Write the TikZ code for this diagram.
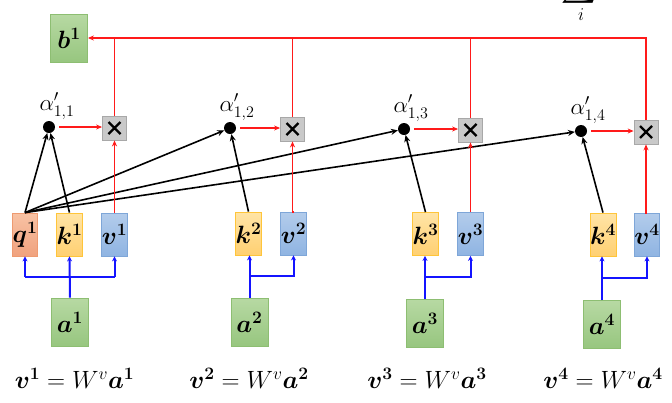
\documentclass[tikz,border=0pt]{standalone}
\usepackage{fix-cm}
\usepackage{amsmath}
\usepackage{bm}
\usetikzlibrary{arrows.meta}
\definecolor{gtop}{HTML}{B7D9A3}
\definecolor{gbot}{HTML}{97C67F}
\definecolor{gline}{HTML}{8DBE72}
\definecolor{otop}{HTML}{F8C2A4}
\definecolor{obot}{HTML}{F0A27E}
\definecolor{oline}{HTML}{EE9A70}
\definecolor{ytop}{HTML}{FFE4A6}
\definecolor{ybot}{HTML}{FFD072}
\definecolor{yline}{HTML}{FFC53A}
\definecolor{btop}{HTML}{B3CCEB}
\definecolor{bbot}{HTML}{8FB4E2}
\definecolor{bline}{HTML}{7EA6D8}
\definecolor{xfill}{HTML}{C9C9C9}
\definecolor{xline}{HTML}{A8A8A8}
\definecolor{redl}{HTML}{FF1A1A}
\definecolor{bluel}{HTML}{1414FF}
\tikzset{
  base/.style={draw, line width=0.8pt, inner sep=0pt, font=\fontsize{25}{25}\selectfont},
  gbox/.style={base, top color=gtop, bottom color=gbot, draw=gline, minimum width=37pt, minimum height=48pt},
  qbox/.style={base, top color=otop, bottom color=obot, draw=oline, minimum width=24pt, minimum height=43pt},
  kbox/.style={base, top color=ytop, bottom color=ybot, draw=yline, minimum width=23pt, minimum height=43pt},
  vbox/.style={base, top color=btop, bottom color=bbot, draw=bline, minimum width=23pt, minimum height=43pt},
  xbox/.style={draw=xline, fill=xfill, line width=0.8pt, minimum width=24pt, minimum height=24pt, inner sep=0pt},
  dotn/.style={circle, fill=black, inner sep=0pt, minimum size=12pt},
  alab/.style={font=\fontsize{23}{23}\selectfont, inner sep=0pt},
  eqn/.style={font=\fontsize{25}{25}\selectfont, inner sep=0pt},
  blk/.style={draw=black, line width=1.6pt, -{Stealth[length=7pt,width=6pt]}},
  red/.style={draw=redl, line width=1.8pt},
  reda/.style={red, -{Stealth[length=6pt,width=5pt]}},
  blu/.style={draw=bluel, line width=2pt},
  blua/.style={blu, -{Stealth[length=5pt,width=5pt]}},
}
\newcommand{\xmark}{\tikz[baseline=-3pt]{\draw[line width=2.4pt] (-6pt,-6pt)--(6pt,6pt) (-6pt,6pt)--(6pt,-6pt);}}
\begin{document}
\begin{tikzpicture}[x=1pt,y=-1pt]
\useasboundingbox (0,0) rectangle (672,402);
% sigma partial
\node[anchor=south, inner sep=0pt, font=\fontsize{24}{24}\selectfont] (sig) at (579,6) {$\displaystyle\sum$};
\node[inner sep=0pt, font=\fontsize{18}{18}\selectfont] (sigi) at (581,15) {$i$};
% b1
\node[gbox] (b) at (69,38) {$\bm{b}^{\bm 1}$};
% q k v
\node[qbox] (q1) at (25,234.5) {$\bm{q}^{\bm 1}$};
\node[kbox] (k1) at (69.5,234.5) {$\bm{k}^{\bm 1}$};
\node[vbox] (v1) at (114.5,234.5) {$\bm{v}^{\bm 1}$};
\node[kbox] (k2) at (248.5,233.5) {$\bm{k}^{\bm 2}$};
\node[vbox] (v2) at (293.5,233.5) {$\bm{v}^{\bm 2}$};
\node[kbox] (k3) at (425.5,234) {$\bm{k}^{\bm 3}$};
\node[vbox] (v3) at (470.5,234) {$\bm{v}^{\bm 3}$};
\node[kbox] (k4) at (603,234.5) {$\bm{k}^{\bm 4}$};
\node[vbox] (v4) at (647,234.5) {$\bm{v}^{\bm 4}$};
% a boxes
\node[gbox] (a1) at (70,322) {$\bm{a}^{\bm 1}$};
\node[gbox] (a2) at (249.5,322) {$\bm{a}^{\bm 2}$};
\node[gbox] (a3) at (425,323) {$\bm{a}^{\bm 3}$};
\node[gbox] (a4) at (602,324.5) {$\bm{a}^{\bm 4}$};
% X boxes
\node[xbox] (x1) at (114.5,128) {\xmark};
\node[xbox] (x2) at (292.5,129) {\xmark};
\node[xbox] (x3) at (470.5,130) {\xmark};
\node[xbox] (x4) at (646,132) {\xmark};
% dots
\node[dotn] (d1) at (49,127) {};
\node[dotn] (d2) at (230,128) {};
\node[dotn] (d3) at (404,129) {};
\node[dotn] (d4) at (581,131) {};
% alpha labels
\node[alab] (l1) at (57,106) {$\alpha'_{1,1}$};
\node[alab] (l2) at (237,107) {$\alpha'_{1,2}$};
\node[alab] (l3) at (411,108) {$\alpha'_{1,3}$};
\node[alab] (l4) at (588,110) {$\alpha'_{1,4}$};
% equations
\node[eqn] (e1) at (74.5,378) {$\bm{v}^{\bm 1} = W^{v}\bm{a}^{\bm 1}$};
\node[eqn] (e2) at (249,378) {$\bm{v}^{\bm 2} = W^{v}\bm{a}^{\bm 2}$};
\node[eqn] (e3) at (427,378) {$\bm{v}^{\bm 3} = W^{v}\bm{a}^{\bm 3}$};
\node[eqn] (e4) at (603,378) {$\bm{v}^{\bm 4} = W^{v}\bm{a}^{\bm 4}$};
% black arrows
\foreach \d in {d1,d2,d3,d4}{
  \draw[blk] (q1.north) -- (\d);
}
\draw[blk] (k1.north) -- (d1);
\draw[blk] (k2.north) -- (d2);
\draw[blk] (k3.north) -- (d3);
\draw[blk] (k4.north) -- (d4);
% red arrows
\foreach \i in {1,2,3,4}{
  \draw[reda] ([xshift=4pt]d\i.east) -- (x\i.west |- d\i.east);
  \draw[reda] (v\i.north) -- (v\i.north -| x\i.south) -- (x\i.south);
}
\coordinate (tr) at (646,38);
\draw[red] (x1.north) -- (x1.north |- tr);
\draw[red] (x2.north) -- (x2.north |- tr);
\draw[red] (x3.north) -- (x3.north |- tr);
\draw[reda] (x4.north) -- (tr) -- (b.east);
% blue arrows
\coordinate (h1) at (70,277);
\draw[blu] (q1.south |- h1) -- (v1.south |- h1);
\draw[blua] (q1.south |- h1) -- (q1.south);
\draw[blua] (v1.south |- h1) -- (v1.south);
\draw[blua] (a1.north) -- (k1.south);
\foreach \i/\yy in {2/276,3/277,4/278}{
  \draw[blua] (a\i.north) -- (a\i.north |- k\i.south);
  \draw[blua] (a\i.north |- 0,\yy) -- (v\i.south |- 0,\yy) -- (v\i.south);
}
\end{tikzpicture}
\end{document}
